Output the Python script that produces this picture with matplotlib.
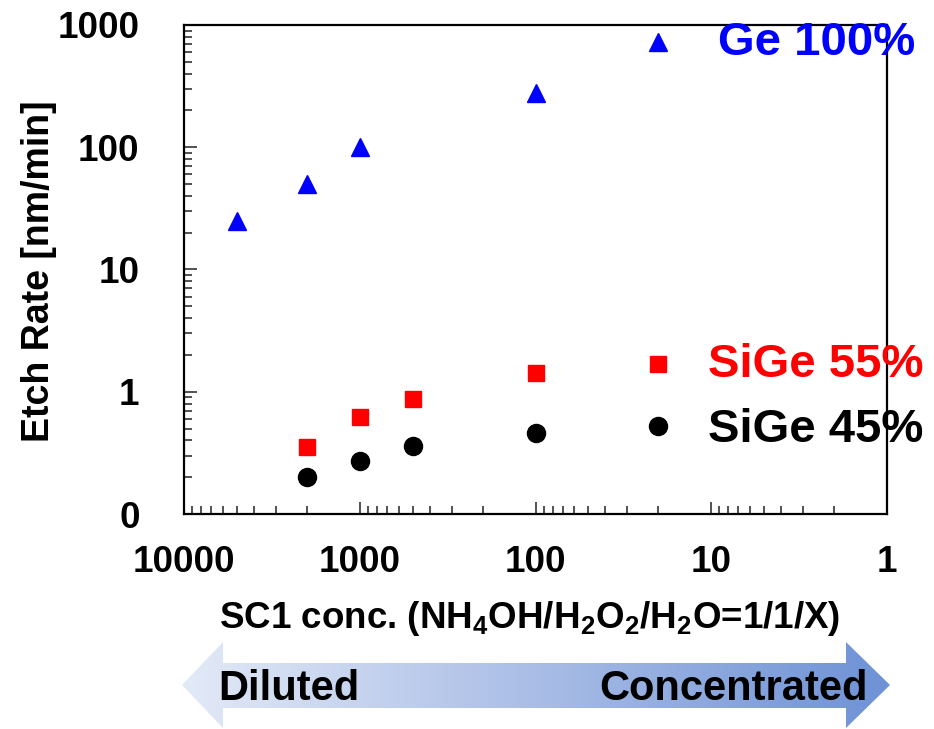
import numpy as np
import matplotlib.pyplot as plt
from matplotlib.patches import Polygon
from matplotlib.colors import LinearSegmentedColormap
from matplotlib.ticker import FixedLocator, LogLocator, NullFormatter

plt.rcParams["font.family"] = ["Liberation Sans", "DejaVu Sans"]
plt.rcParams["font.weight"] = "bold"
plt.rcParams["mathtext.fontset"] = "custom"
plt.rcParams["mathtext.rm"] = "Liberation Sans:bold"
plt.rcParams["mathtext.bf"] = "Liberation Sans:bold"
plt.rcParams["mathtext.default"] = "bf"

# SC1 dilution X (NH4OH/H2O2/H2O = 1/1/X) and etch rates in nm/min
ge100_x = [5000, 2000, 1000, 100, 20]
ge100_rate = [25, 50, 100, 280, 720]

sige55_x = [2000, 1000, 500, 100, 20]
sige55_rate = [0.355, 0.62, 0.88, 1.43, 1.70]

sige45_x = [2000, 1000, 500, 100, 20]
sige45_rate = [0.20, 0.272, 0.36, 0.46, 0.52]

y_ticks = [0.1, 1, 10, 100, 1000]
y_tick_labels = ["0", "1", "10", "100", "1000"]
x_ticks = [10000, 1000, 100, 10, 1]
x_tick_labels = ["10000", "1000", "100", "10", "1"]

W, H = 934, 729
fig = plt.figure(figsize=(W / 100, H / 100), dpi=100)
ax = fig.add_axes([184 / W, 1 - 514 / H, (887 - 184) / W, (514 - 25) / H])

ax.plot(ge100_x, ge100_rate, ls="none", marker="^", ms=13, color="#0000ff")
ax.plot(sige55_x, sige55_rate, ls="none", marker="s", ms=12, color="#ff0000")
ax.plot(sige45_x, sige45_rate, ls="none", marker="o", ms=13, color="black")

ax.set_xscale("log")
ax.set_yscale("log")
ax.set_xlim(10000, 1)
ax.set_ylim(0.1, 1000)

ax.xaxis.set_major_locator(FixedLocator(x_ticks))
ax.set_xticklabels(x_tick_labels)
ax.yaxis.set_major_locator(FixedLocator(y_ticks))
ax.set_yticklabels(y_tick_labels)
for axis in (ax.xaxis, ax.yaxis):
    axis.set_minor_locator(LogLocator(base=10, subs=np.arange(2, 10)))
    axis.set_minor_formatter(NullFormatter())

ax.tick_params(which="both", direction="in", top=False, right=False,
               color="#333333", width=1.2, labelsize=26.5)
ax.tick_params(which="major", length=9)
ax.tick_params(which="minor", length=6)
ax.tick_params(axis="y", which="major", pad=32)
ax.tick_params(axis="x", which="major", pad=22)
for sp in ax.spines.values():
    sp.set_linewidth(1.6)

# overlay in pixel units for labels and the gradient arrow
ov = fig.add_axes([0, 0, 1, 1])
ov.set_facecolor("none")

arrow_pts = [(182, 685), (223, 642), (223, 663), (846, 663), (846, 642),
             (890, 685), (846, 728), (846, 708), (223, 708), (223, 728)]
arrow = Polygon(arrow_pts, closed=True, facecolor="none", edgecolor="none")
ov.add_patch(arrow)
cmap = LinearSegmentedColormap.from_list("conc", ["#e3eaf7", "#a9bde6", "#6e92d6"])
grad = ov.imshow(np.linspace(0, 1, 256).reshape(1, -1), cmap=cmap,
                 extent=(182, 890, 728, 642), aspect="auto", interpolation="bilinear")
grad.set_clip_path(arrow)

ov.set_xlim(0, W)
ov.set_ylim(H, 0)
ov.axis("off")

ov.text(218, 700, "Diluted", fontsize=30, ha="left", va="baseline")
ov.text(868, 700, "Concentrated", fontsize=30, ha="right", va="baseline")

ov.text(530, 628, r"SC1 conc. (NH$_4$OH/H$_2$O$_2$/H$_2$O=1/1/X)",
        fontsize=26.5, ha="center", va="baseline")
ov.text(39, 271, "Etch Rate [nm/min]", fontsize=27, rotation=90,
        ha="center", va="center")

ov.text(718, 55, "Ge 100%", fontsize=34, color="#0000ff", ha="left", va="baseline")
ov.text(708, 377, "SiGe 55%", fontsize=34, color="#ff0000", ha="left", va="baseline")
ov.text(708, 442, "SiGe 45%", fontsize=34, color="black", ha="left", va="baseline")

fig.savefig("out.png", dpi=100)
